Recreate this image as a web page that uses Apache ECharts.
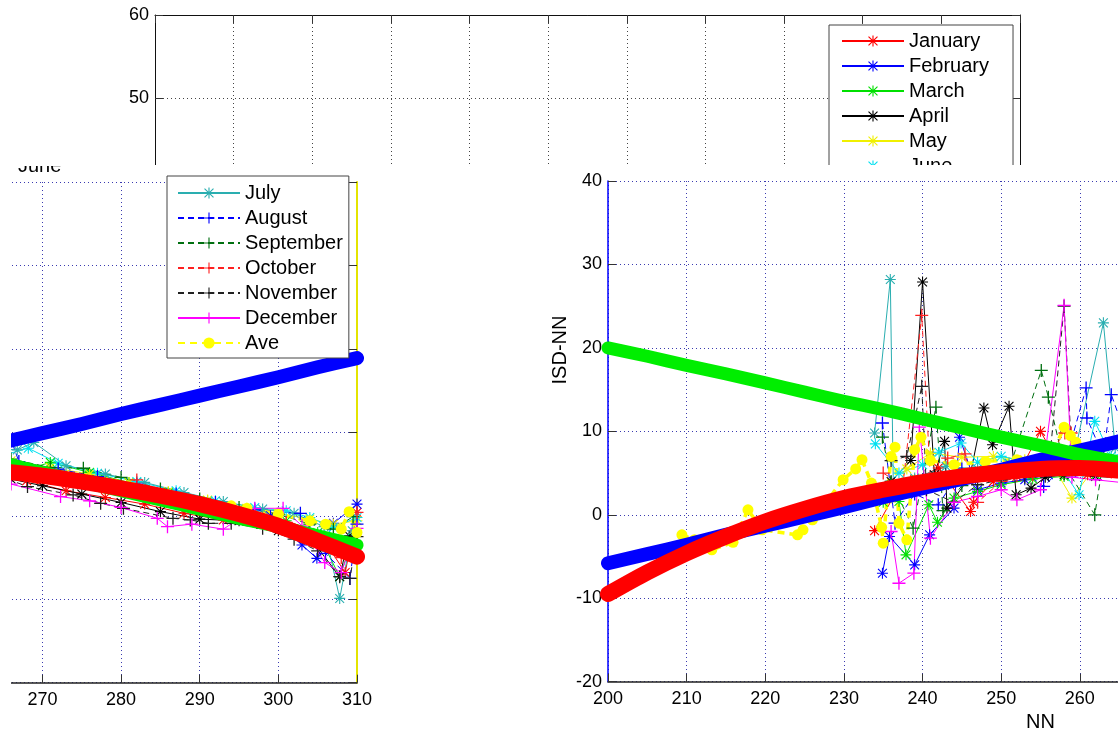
<!DOCTYPE html>
<html>
<head>
<meta charset="utf-8">
<script src="https://cdn.jsdelivr.net/npm/echarts@6.0.0/dist/echarts.min.js"></script>
<style>
html, body { margin: 0; padding: 0; background: #fff; }
#chartBox { width: 1118px; height: 733px; }
</style>
</head>
<body>
<div id="chartBox"></div>
<script>
// fitted curves, read every 5 NN
const bandNN = [200, 205, 210, 215, 220, 225, 230, 235, 240, 245, 250, 255, 260, 265, 270, 275, 280, 285, 290, 295, 300, 305, 310];
const blueFit = [-5.8, -4.7, -3.6, -2.4, -1.3, -0.2, 0.9, 2.1, 3.2, 4.3, 5.4, 6.6, 7.7, 8.8, 9.9, 11.0, 12.2, 13.3, 14.4, 15.5, 16.6, 17.8, 18.9];
const greenFit = [20.0, 19.0, 17.9, 16.9, 15.8, 14.7, 13.6, 12.6, 11.5, 10.4, 9.3, 8.3, 7.2, 6.3, 5.2, 4.1, 3.0, 1.9, 0.8, -0.3, -1.3, -2.4, -3.5];
const redFit = [-9.5, -6.9, -4.6, -2.6, -0.8, 0.7, 2.0, 3.0, 3.9, 4.6, 5.1, 5.5, 5.6, 5.3, 4.8, 4.1, 3.3, 2.4, 1.4, 0.2, -1.2, -3.0, -4.9];

// monthly points [NN, ISD-NN]
const jan = [[233.9,-1.9],[236.5,2.5],[239,4.2],[242,5.6],[246.1,0.4],[246.5,1.5],[249,4.0],[252,4.6],[255,10.0],[257.5,5.8],[261,4.8],[264,5.0],[268,4.2],[273,3.0],[278,2.2],[283,1.4],[288,0.3],[293,-0.5],[298,-0.9],[302,-2.2],[306,-3.2],[308.5,-6.8],[310,0.4]];
const feb = [[234.9,-7.0],[235.8,-2.6],[239,-6.0],[240.9,-2.4],[244,0.8],[244.7,9.3],[247,3.0],[250,3.8],[253,4.2],[256,4.8],[259,5.0],[262,6.0],[265,6.2],[269,5.3],[274,4.4],[279,3.4],[284,2.6],[289,1.6],[294,0.7],[299,0.0],[303,-3.5],[304.9,-5.1],[307,-0.9],[310,1.4]];
const mar = [[235,1.5],[237,1.6],[237.9,-4.8],[240.8,1.2],[241.9,-0.9],[244,2.0],[247,2.8],[250,3.6],[254,4.3],[258,4.6],[262,4.8],[266,5.0],[271,6.4],[276,5.2],[281,4.0],[286,2.8],[291,1.8],[296,0.8],[301,-0.6],[305,-2.0],[307.8,-7.3],[309.5,-2.6]];
const apr = [[236,4.0],[238.5,6.5],[240,27.9],[241.5,4.8],[242.8,8.8],[243.1,0.8],[246,4.5],[247.8,12.8],[248.9,8.4],[251,13.0],[251.9,2.4],[253.8,3.2],[255.6,4.5],[258,4.8],[262,4.6],[266,4.4],[270,3.6],[275,2.6],[280,1.6],[285,0.5],[290,-0.4],[295,-0.6],[300,-1.8],[304,-2.6],[307.8,-7.3],[309,-2.4]];
const may = [[236,2.0],[238,5.5],[241,7.4],[245,6.9],[249,7.0],[253,6.6],[256,6.8],[259,2.0],[262,5.8],[266,6.6],[271,5.8],[276,5.0],[281,4.0],[286,2.9],[291,1.9],[296,0.9],[300,0.3],[304,-0.4],[307,-1.0],[310,-0.6]];
const jun = [[234,8.5],[237,5.0],[240,6.0],[242.1,7.5],[244.9,8.6],[247,6.3],[250,7.0],[254,6.2],[257,6.5],[259.9,2.4],[261.9,11.2],[264,7.0],[268.2,8.1],[272,6.3],[277,5.1],[282,4.1],[287,3.0],[292,1.8],[297,1.0],[301,0.6],[304,-0.2],[307,-1.4],[310,-0.2]];
const jul = [[233.9,9.8],[235.9,28.2],[236.3,2.5],[239,4.4],[243,5.8],[247,5.5],[251,6.2],[255,6.4],[259,6.0],[263,23.0],[264.5,8.0],[266.8,7.9],[268.9,8.8],[273,6.0],[278,5.0],[283,4.0],[288,2.8],[293,1.7],[298,0.8],[302,0.3],[305.8,-1.3],[307.8,-9.9],[309.4,-1.8]];
const aug = [[234.9,11.0],[236.5,-1.0],[239,2.5],[242,1.2],[245,5.5],[248,5.0],[252,5.8],[255.4,3.4],[258,5.8],[260.8,15.2],[260.9,11.6],[263,7.0],[264,14.4],[267,6.5],[272,5.6],[277,4.7],[282,3.8],[287,2.6],[292,1.6],[297,0.7],[302.8,0.3],[306,-4.5],[309.1,-7.5],[310,-1.0]];
const sep = [[234.9,9.3],[236,4.0],[238.8,-1.6],[241.7,12.9],[242.6,0.5],[245,3.5],[248,4.8],[251,5.4],[255.1,17.3],[256,14.1],[258,6.0],[261.9,0.0],[263,6.5],[266,6.8],[271,5.8],[275.2,5.7],[280,4.6],[285,3.2],[290,2.0],[295,1.0],[300,0.2],[304,-1.0],[307,-1.6],[309.5,-0.1]];
const oct = [[235,5.0],[237.5,3.5],[239.9,23.9],[241,4.2],[243.2,6.8],[245.4,7.3],[247,1.5],[250,4.0],[254,4.8],[258.1,9.8],[258.9,9.8],[261,5.6],[264,5.4],[268,4.8],[273,4.0],[278,3.2],[282,4.3],[287,2.0],[292,0.8],[297,0.0],[301,-0.8],[305,-2.6],[308,-5.0],[310,0.4]];
const nov = [[236,6.5],[238,7.0],[239.9,15.4],[240.5,3.0],[244,1.5],[247,3.6],[250,4.2],[253,4.5],[256,5.0],[258,25.0],[259,6.5],[262,5.2],[265,4.6],[268.1,3.5],[273.9,2.5],[277.4,1.5],[280.3,0.9],[286.6,-0.3],[288.8,-0.5],[291.1,-0.9],[294,-0.9],[298,-1.5],[302,-2.8],[305,-4.2],[307.8,-7.3],[309.1,-7.5],[310,-2.5]];
const dec = [[236,-2.0],[237,-8.2],[238.9,-7.0],[239.6,10.5],[241,-2.8],[244,1.5],[247,2.2],[250,3.0],[252,1.8],[255,3.0],[258,25.1],[259,4.5],[262,4.2],[266,3.8],[272.3,2.3],[276,1.8],[280,1.0],[284.6,-0.3],[285.9,-1.3],[289,-1.0],[293,-1.6],[297,0.9],[300.6,0.9],[303,-1.2],[305.9,-5.6],[308,-6.8],[310,-1.5]];
const ave = [[209.4,-2.4],[211,-3.0],[212.6,-3.8],[213.2,-4.2],[215.9,-3.3],[217.8,0.6],[219.6,-1.8],[224.1,-2.4],[224.8,-1.8],[226,-0.6],[229.9,4.2],[231.5,5.5],[232.3,6.6],[233.5,3.8],[234.8,-1.5],[235,-3.4],[235.5,2.1],[236,7.0],[236.5,8.1],[237,-1.0],[238,-3.0],[239,7.8],[239.8,9.3],[241,6.5],[244,6.0],[248,6.4],[252,6.6],[256,6.3],[258,10.5],[258.8,9.5],[259.5,8.7],[262,6.2],[266,5.8],[270,4.9],[276,3.9],[282,2.9],[288,2.0],[294,1.2],[296,0.9],[300,0.2],[304,-0.6],[306,-1.0],[308,-1.6],[309,0.5],[310,-2.0]];

const legendTop = ['January', 'February', 'March', 'April', 'May', 'June'];
const legendLeft = ['July', 'August', 'September', 'October', 'November', 'December', 'Ave'];

const FONT = 'Liberation Sans, Arial, sans-serif';
const starMark = 'path://M9,0H11V20H9Z M0,9H20V11H0Z M2.7,1.3L18.7,17.3L17.3,18.7L1.3,2.7Z M17.3,1.3L18.7,2.7L2.7,18.7L1.3,17.3Z';
const plusMark = 'path://M9,0H11V20H9Z M0,9H20V11H0Z';

const months = [
  { name: 'January', data: jan, color: '#ff0000', mark: starMark, dash: 'solid' },
  { name: 'February', data: feb, color: '#0000ff', mark: starMark, dash: 'solid' },
  { name: 'March', data: mar, color: '#00e000', mark: starMark, dash: 'solid' },
  { name: 'April', data: apr, color: '#000000', mark: starMark, dash: 'solid' },
  { name: 'May', data: may, color: '#f0f000', mark: starMark, dash: 'solid' },
  { name: 'June', data: jun, color: '#00e0f0', mark: starMark, dash: 'solid' },
  { name: 'July', data: jul, color: '#2aaeb0', mark: starMark, dash: 'solid' },
  { name: 'August', data: aug, color: '#0000ff', mark: plusMark, dash: [6, 4] },
  { name: 'September', data: sep, color: '#006f10', mark: plusMark, dash: [6, 4] },
  { name: 'October', data: oct, color: '#ff2020', mark: plusMark, dash: [6, 4] },
  { name: 'November', data: nov, color: '#202020', mark: plusMark, dash: [6, 4] },
  { name: 'December', data: dec, color: '#ff00ff', mark: plusMark, dash: 'solid' }
];

const bands = [
  { name: 'fitBlue', vals: blueFit, color: '#0000ff', width: 14 },
  { name: 'fitGreen', vals: greenFit, color: '#00ee00', width: 13 },
  { name: 'fitRed', vals: redFit, color: '#ff0000', width: 16 }
];

const gridDot = { type: [1, 3], color: '#3a3ab0', width: 1 };

const chartBox = echarts.init(document.getElementById('chartBox'));

const midXAxis = (gridIndex, withName) => ({
  type: 'value', gridIndex: gridIndex, min: 200, max: 310, interval: 10, z: 3,
  axisLine: { show: true, onZero: false, lineStyle: { color: '#222', width: 1.5 } },
  axisTick: { show: true, inside: true, length: 8, lineStyle: { color: '#333' } },
  axisLabel: { color: '#000', fontSize: 18, fontFamily: FONT, margin: 8, hideOverlap: false },
  splitLine: { show: true, lineStyle: gridDot },
  name: withName ? 'NN' : '',
  nameLocation: 'middle', nameGap: 28,
  nameTextStyle: { color: '#000', fontSize: 20, fontFamily: FONT }
});

let seriesArr = [];
[[2, 2], [3, 3]].forEach(([xi, yi]) => {
  months.forEach(m => {
    seriesArr.push({
      name: m.name, type: 'line', xAxisIndex: xi, yAxisIndex: yi,
      data: m.data, symbol: m.mark, symbolSize: m.mark === plusMark ? 13 : 11,
      showSymbol: true, clip: false, z: 4, silent: true,
      lineStyle: { color: m.color, width: 1, type: m.dash },
      itemStyle: { color: m.color, borderWidth: 0 }
    });
  });
  seriesArr.push({
    name: 'Ave', type: 'line', xAxisIndex: xi, yAxisIndex: yi,
    data: ave, symbol: 'circle', symbolSize: 11, showSymbol: true, clip: false, z: 4, silent: true,
    lineStyle: { color: '#ffff00', width: 3.5, type: [7, 5] },
    itemStyle: { color: '#ffff00', borderWidth: 0 }
  });
  bands.forEach(b => {
    seriesArr.push({
      name: b.name, type: 'line', xAxisIndex: xi, yAxisIndex: yi,
      data: bandNN.map((nn, i) => [nn, b.vals[i]]),
      symbol: 'none', smooth: 0.3, clip: false, z: 5, silent: true,
      lineStyle: { color: b.color, width: b.width, cap: 'round', join: 'round' }
    });
  });
});

const legendBase = {
  orient: 'vertical', itemWidth: 62, itemHeight: 14, itemGap: 5,
  backgroundColor: '#fff', borderColor: '#444', borderWidth: 1, borderRadius: 0,
  selectedMode: false,
  textStyle: { color: '#000', fontSize: 20, fontFamily: FONT }
};

const option = {
  backgroundColor: '#fff',
  animation: false,
  grid: [
    { left: 155, top: 15, width: 865, height: 166.9, outerBoundsMode: 'none', containLabel: false },
    { left: 608, top: 181, width: 865, height: 500.7, outerBoundsMode: 'none', containLabel: false },
    { left: -508, top: 182, width: 865, height: 500.7, outerBoundsMode: 'none', containLabel: false }
  ],
  legend: [
    Object.assign({}, legendBase, { data: legendTop, left: 829, top: 25, padding: [6, 24, 3, 12], z: 1 }),
    Object.assign({}, legendBase, { data: legendLeft, left: 167, top: 176, padding: [7, 6, 5, 10], z: 6 })
  ],
  xAxis: [
    {
      type: 'value', gridIndex: 0, min: 200, max: 310, interval: 10, z: 0,
      axisLine: { show: false }, axisTick: { show: false }, axisLabel: { show: false },
      splitLine: { show: true, lineStyle: { type: [1, 3], color: '#444' } }
    },
    {
      type: 'value', gridIndex: 0, position: 'top', min: 200, max: 310, interval: 10, z: 0,
      axisLine: { show: true, lineStyle: { color: '#111' } },
      axisTick: { show: true, inside: true, length: 8, lineStyle: { color: '#333' } },
      axisLabel: { show: false }, splitLine: { show: false }
    },
    midXAxis(1, true),
    midXAxis(2, false)
  ],
  yAxis: [
    {
      type: 'value', gridIndex: 0, min: 40, max: 60, interval: 10, z: 0,
      axisLine: { show: true, lineStyle: { color: '#111' } },
      axisTick: { show: true, inside: true, length: 8, lineStyle: { color: '#333' } },
      axisLabel: { color: '#000', fontSize: 18, fontFamily: FONT, margin: 6,
        formatter: v => (v === 40 ? '' : String(v)) },
      splitLine: { show: true, lineStyle: { type: [1, 3], color: '#444' } }
    },
    {
      type: 'value', gridIndex: 0, position: 'right', min: 40, max: 60, interval: 10, z: 0,
      axisLine: { show: true, lineStyle: { color: '#111' } },
      axisTick: { show: true, inside: true, length: 8, lineStyle: { color: '#333' } },
      axisLabel: { show: false }, splitLine: { show: false }
    },
    {
      type: 'value', gridIndex: 1, min: -20, max: 40, interval: 10, z: 3,
      axisLine: { show: true, onZero: false, lineStyle: { color: '#0000ff', width: 1.5 } },
      axisTick: { show: true, inside: true, length: 8, lineStyle: { color: '#333' } },
      axisLabel: { color: '#000', fontSize: 18, fontFamily: FONT, margin: 6 },
      splitLine: { show: true, lineStyle: gridDot }
    },
    {
      type: 'value', gridIndex: 2, min: -20, max: 40, interval: 10, z: 3,
      axisLine: { show: false }, axisTick: { show: false }, axisLabel: { show: false },
      splitLine: { show: true, lineStyle: gridDot }
    },
    {
      type: 'value', gridIndex: 2, position: 'right', min: -20, max: 40, interval: 10, z: 3,
      axisLine: { show: true, onZero: false, lineStyle: { color: '#e4e400', width: 2 } },
      axisTick: { show: true, inside: true, length: 8, lineStyle: { color: '#333' } },
      axisLabel: { show: false }, splitLine: { show: false }
    }
  ],
  graphic: [
    // cut band between the top piece and the two lower pieces
    { type: 'rect', z: 2, silent: true, shape: { x: 0, y: 165, width: 1118, height: 18 }, style: { fill: '#fff' } },
    { type: 'text', z: 2.5, silent: true, x: 18, y: 166,
      style: { text: 'June', font: '20px ' + FONT, fill: '#000', textVerticalAlign: 'middle' } },
    { type: 'rect', z: 2.6, silent: true, shape: { x: 0, y: 140, width: 150, height: 26 }, style: { fill: '#fff' } },
    // left edge of the lower-left piece
    { type: 'rect', z: 5.5, silent: true, shape: { x: 0, y: 176, width: 11, height: 520 }, style: { fill: '#fff' } },
    { type: 'text', z: 6, silent: true, x: 560, y: 350, rotation: Math.PI / 2,
      style: { text: 'ISD-NN', font: '20px ' + FONT, fill: '#000', textAlign: 'center', textVerticalAlign: 'middle' } }
  ],
  series: seriesArr
};

chartBox.setOption(option);
</script>
</body>
</html>
